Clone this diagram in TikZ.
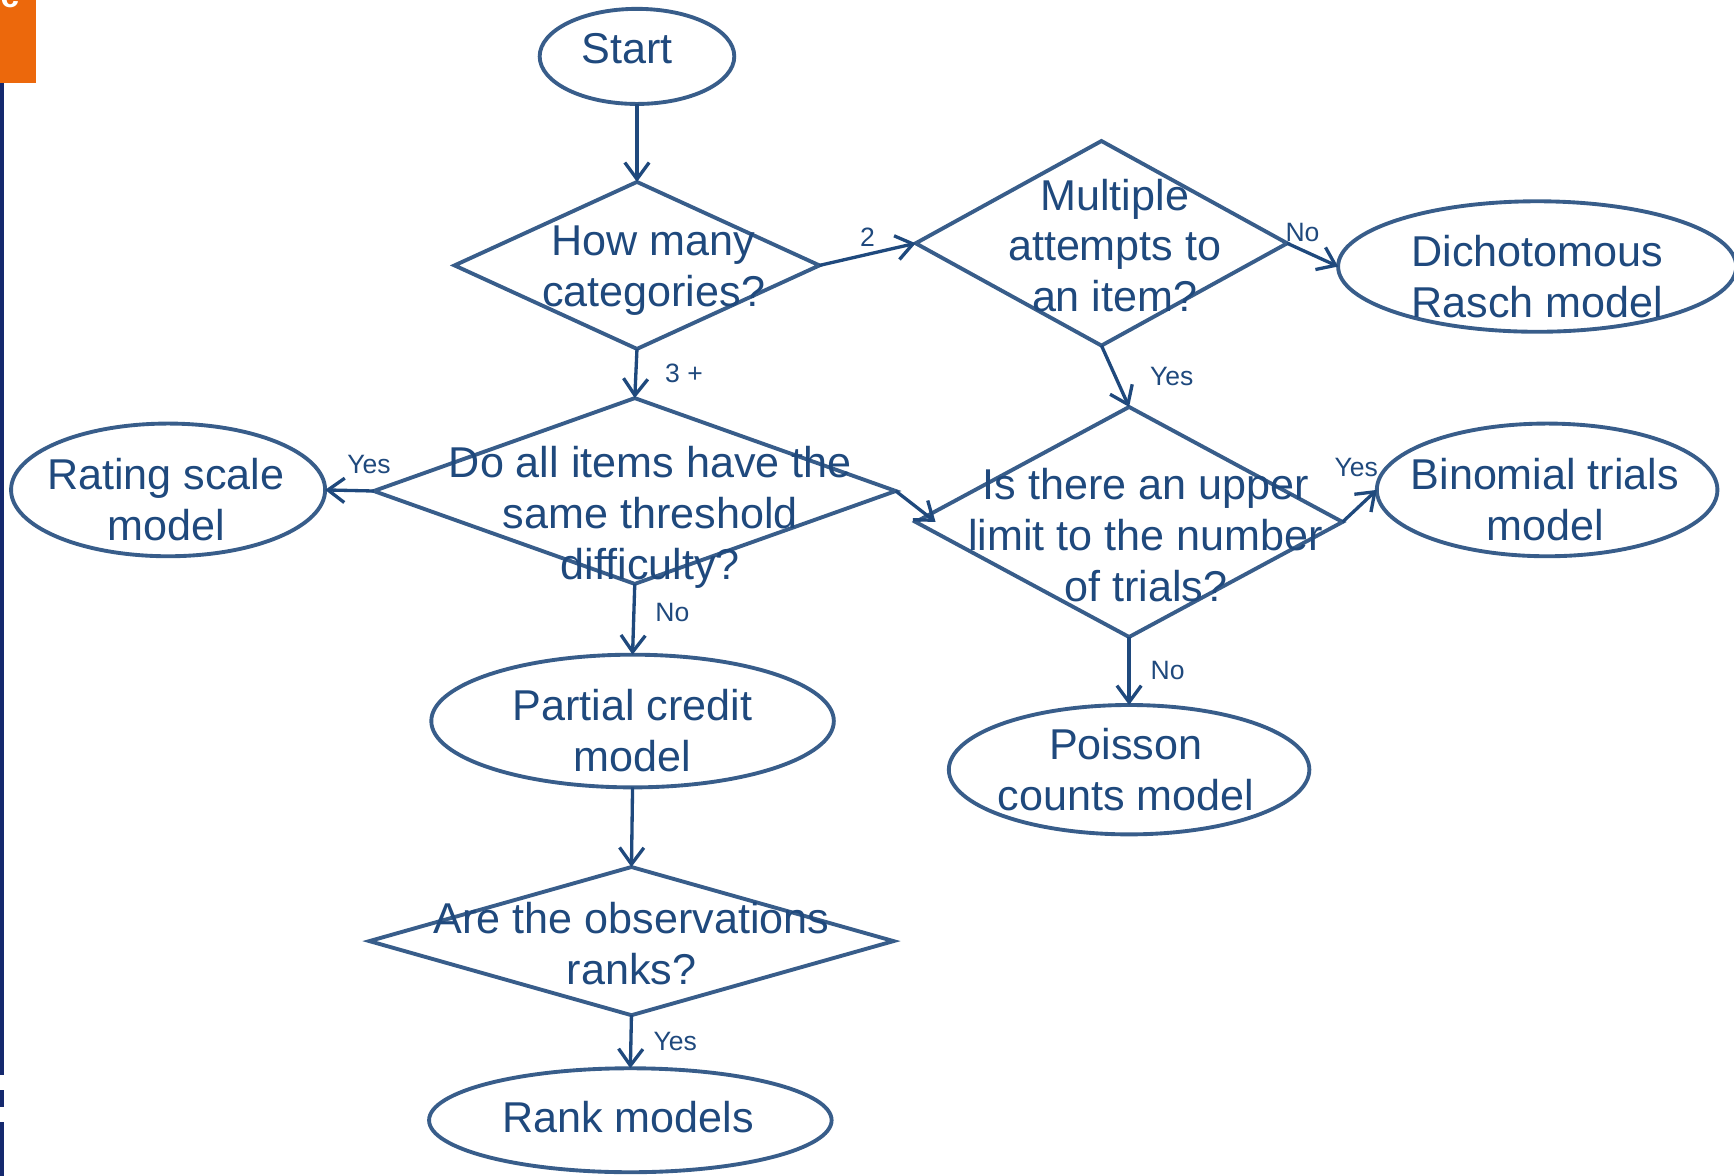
\documentclass[tikz,border=0pt]{standalone}
\usepackage{fontspec}
\setmainfont{Liberation Sans}
\usetikzlibrary{arrows.meta, shapes.geometric, positioning}
\definecolor{shapeblue}{HTML}{385D8A}
\definecolor{flowblue}{HTML}{1F497D}
\definecolor{barnavy}{HTML}{15296E}
\definecolor{tagorange}{HTML}{EC680C}
\tikzset{
  term/.style={ellipse, draw=shapeblue, line width=3.5pt, fill=white,
               inner sep=0pt, outer sep=0pt},
  decide/.style={diamond, draw=shapeblue, line width=3.5pt, fill=white,
                 inner sep=0pt, outer sep=0pt},
  txt/.style={text=flowblue, align=center, inner sep=0pt,
              font=\fontsize{39}{46}\selectfont},
  lbl/.style={text=flowblue, inner sep=0pt, font=\fontsize{24}{28}\selectfont},
  flow/.style={-{Straight Barb[length=15pt, width=22pt]}, line width=3pt, draw=flowblue},
}

\begin{document}
\begin{tikzpicture}[x=1pt, y=-1pt]
  \useasboundingbox (0,0) rectangle (1568,1063);
  % slide edge
  \fill[tagorange] (0,0) rectangle (33,75);
  \node[text=white, font=\fontsize{30}{30}\selectfont\bfseries, anchor=base] (tag) at (9,7) {c};
  \fill[barnavy] (0,75) rectangle (3.6,972);
  \fill[barnavy] (0,986) rectangle (3.6,1001);
  \fill[barnavy] (0,1015) rectangle (3.6,1063);

  % shapes
  \node[term, minimum width=176, minimum height=86,
        label={[txt, xshift=-9, yshift=7]center:Start}] (start) at (576,51) {};
  \node[decide, minimum width=330, minimum height=151,
        label={[txt, xshift=15, yshift=-5]center:How many\\categories?}] (cats) at (576,240) {};
  \node[decide, minimum width=336, minimum height=185,
        label={[txt, xshift=12, yshift=-2]center:Multiple\\attempts to\\an item?}] (multi) at (996,220) {};
  \node[term, minimum width=360, minimum height=118,
        label={[txt, yshift=-9]center:Dichotomous\\Rasch model}] (dich) at (1390,241) {};
  \node[decide, minimum width=472, minimum height=168,
        label={[txt, xshift=14, yshift=-24]center:Do all items have the\\same threshold\\difficulty?}] (same) at (574,444) {};
  \node[term, minimum width=284, minimum height=120,
        label={[txt, xshift=-2, yshift=-9]center:Rating scale\\model}] (rating) at (152,443) {};
  \node[decide, minimum width=386, minimum height=208,
        label={[txt, xshift=15, yshift=-12]center:Is there an upper\\limit to the number\\of trials?}] (limit) at (1021,472) {};
  \node[term, minimum width=308, minimum height=120,
        label={[txt, xshift=-2, yshift=-9]center:Binomial trials\\model}] (binom) at (1399,443) {};
  \node[term, minimum width=364, minimum height=120,
        label={[txt, yshift=-9]center:Partial credit\\model}] (partial) at (572,652) {};
  \node[term, minimum width=326, minimum height=117,
        label={[txt, xshift=-3]center:Poisson\\counts model}] (poisson) at (1021,696) {};
  \node[decide, minimum width=474, minimum height=134,
        label={[txt, yshift=-2]center:Are the observations\\ranks?}] (ranks) at (571,851) {};
  \node[term, minimum width=364, minimum height=94,
        label={[txt, xshift=-2, yshift=3]center:Rank models}] (rank) at (570,1013) {};

  % connectors
  \draw[flow] (start.south) -- (cats.north);
  \draw[flow] (cats.east) -- node[lbl, midway, above=6pt] {2} (multi.west);
  \draw[flow] (cats.south) -- node[lbl, midway, right=25pt] {3 +} (same.north);
  \draw[flow] (multi.east) -- node[lbl, pos=0.3, above=6pt] {No} (dich.west);
  \draw[flow] (multi.south) -- node[lbl, midway, right=30pt] {Yes} (limit.north);
  \draw[flow] (same.west) -- node[lbl, pos=0.1, above=14pt] {Yes} (rating.east);
  \draw[flow] (same.east) -- ([xshift=18pt]limit.west);
  \draw[flow] (same.south) -- node[lbl, pos=0.4, right=18pt] {No} (partial.north);
  \draw[flow] (limit.east) -- node[lbl, pos=0.4, above=28pt] {Yes} (binom.west);
  \draw[flow] (limit.south) -- node[lbl, midway, right=18pt] {No} (poisson.north);
  \draw[flow] (partial.south) -- (ranks.north);
  \draw[flow] (ranks.south) -- node[lbl, midway, right=19pt] {Yes} (rank.north);
\end{tikzpicture}
\end{document}
